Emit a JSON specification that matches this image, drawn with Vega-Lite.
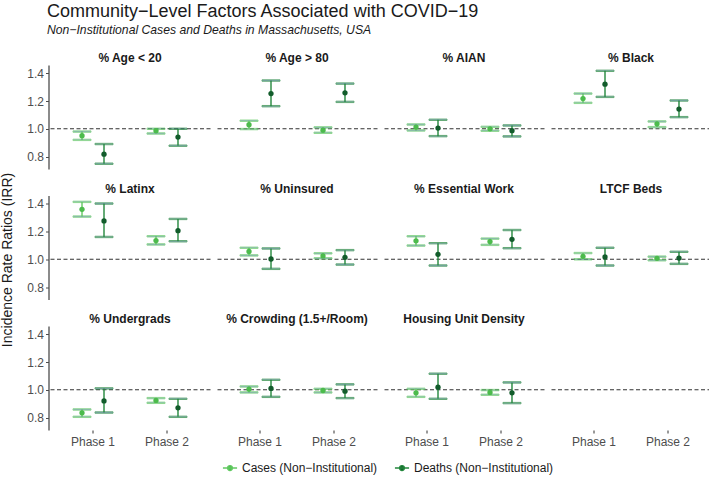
{
  "$schema": "https://vega.github.io/schema/vega-lite/v6.json",
  "background": "white",
  "padding": {"left": 0, "top": 3, "right": 0, "bottom": 4},
  "title": {
    "text": "Community−Level Factors Associated with COVID−19",
    "subtitle": "Non−Institutional Cases and Deaths in Massachusetts, USA",
    "anchor": "start",
    "dx": 46,
    "font": "Liberation Sans",
    "fontSize": 18,
    "fontWeight": "normal",
    "color": "#1a1a1a",
    "subtitleFont": "Liberation Sans",
    "subtitleFontSize": 12.2,
    "subtitleFontStyle": "italic",
    "subtitleColor": "#1a1a1a",
    "subtitlePadding": 3,
    "offset": 15.5
  },
  "hconcat": [
    {
      "data": {"values": [{"label": "Incidence Rate Ratios (IRR)"}]},
      "width": 12,
      "height": 390,
      "mark": {"type": "text", "angle": 270, "font": "Liberation Sans", "fontSize": 14, "color": "#1a1a1a", "baseline": "middle", "align": "center"},
      "encoding": {"text": {"field": "label", "type": "nominal"}}
    },
    {
      "data": {
        "values": [
          {"factor": "% Age < 20", "phase": "Phase 1", "type": "Cases (Non−Institutional)", "est": 0.95, "lo": 0.92, "hi": 0.98},
          {"factor": "% Age < 20", "phase": "Phase 1", "type": "Deaths (Non−Institutional)", "est": 0.817, "lo": 0.748, "hi": 0.89},
          {"factor": "% Age < 20", "phase": "Phase 2", "type": "Cases (Non−Institutional)", "est": 0.986, "lo": 0.966, "hi": 1.0},
          {"factor": "% Age < 20", "phase": "Phase 2", "type": "Deaths (Non−Institutional)", "est": 0.94, "lo": 0.878, "hi": 1.0},
          {"factor": "% Age > 80", "phase": "Phase 1", "type": "Cases (Non−Institutional)", "est": 1.029, "lo": 0.998, "hi": 1.058},
          {"factor": "% Age > 80", "phase": "Phase 1", "type": "Deaths (Non−Institutional)", "est": 1.254, "lo": 1.163, "hi": 1.348},
          {"factor": "% Age > 80", "phase": "Phase 2", "type": "Cases (Non−Institutional)", "est": 0.99, "lo": 0.971, "hi": 1.01},
          {"factor": "% Age > 80", "phase": "Phase 2", "type": "Deaths (Non−Institutional)", "est": 1.259, "lo": 1.194, "hi": 1.326},
          {"factor": "% AIAN", "phase": "Phase 1", "type": "Cases (Non−Institutional)", "est": 1.012, "lo": 0.988, "hi": 1.031},
          {"factor": "% AIAN", "phase": "Phase 1", "type": "Deaths (Non−Institutional)", "est": 1.005, "lo": 0.947, "hi": 1.065},
          {"factor": "% AIAN", "phase": "Phase 2", "type": "Cases (Non−Institutional)", "est": 1.0, "lo": 0.986, "hi": 1.014},
          {"factor": "% AIAN", "phase": "Phase 2", "type": "Deaths (Non−Institutional)", "est": 0.986, "lo": 0.945, "hi": 1.024},
          {"factor": "% Black", "phase": "Phase 1", "type": "Cases (Non−Institutional)", "est": 1.218, "lo": 1.187, "hi": 1.254},
          {"factor": "% Black", "phase": "Phase 1", "type": "Deaths (Non−Institutional)", "est": 1.322, "lo": 1.23, "hi": 1.418},
          {"factor": "% Black", "phase": "Phase 2", "type": "Cases (Non−Institutional)", "est": 1.036, "lo": 1.012, "hi": 1.053},
          {"factor": "% Black", "phase": "Phase 2", "type": "Deaths (Non−Institutional)", "est": 1.142, "lo": 1.084, "hi": 1.204},
          {"factor": "% Latinx", "phase": "Phase 1", "type": "Cases (Non−Institutional)", "est": 1.36, "lo": 1.308, "hi": 1.414},
          {"factor": "% Latinx", "phase": "Phase 1", "type": "Deaths (Non−Institutional)", "est": 1.277, "lo": 1.161, "hi": 1.402},
          {"factor": "% Latinx", "phase": "Phase 2", "type": "Cases (Non−Institutional)", "est": 1.135, "lo": 1.107, "hi": 1.166},
          {"factor": "% Latinx", "phase": "Phase 2", "type": "Deaths (Non−Institutional)", "est": 1.206, "lo": 1.13, "hi": 1.291},
          {"factor": "% Uninsured", "phase": "Phase 1", "type": "Cases (Non−Institutional)", "est": 1.057, "lo": 1.028, "hi": 1.083},
          {"factor": "% Uninsured", "phase": "Phase 1", "type": "Deaths (Non−Institutional)", "est": 1.002, "lo": 0.931, "hi": 1.078},
          {"factor": "% Uninsured", "phase": "Phase 2", "type": "Cases (Non−Institutional)", "est": 1.024, "lo": 1.007, "hi": 1.043},
          {"factor": "% Uninsured", "phase": "Phase 2", "type": "Deaths (Non−Institutional)", "est": 1.014, "lo": 0.962, "hi": 1.066},
          {"factor": "% Essential Work", "phase": "Phase 1", "type": "Cases (Non−Institutional)", "est": 1.133, "lo": 1.099, "hi": 1.166},
          {"factor": "% Essential Work", "phase": "Phase 1", "type": "Deaths (Non−Institutional)", "est": 1.036, "lo": 0.955, "hi": 1.116},
          {"factor": "% Essential Work", "phase": "Phase 2", "type": "Cases (Non−Institutional)", "est": 1.128, "lo": 1.104, "hi": 1.149},
          {"factor": "% Essential Work", "phase": "Phase 2", "type": "Deaths (Non−Institutional)", "est": 1.144, "lo": 1.08, "hi": 1.211},
          {"factor": "LTCF Beds", "phase": "Phase 1", "type": "Cases (Non−Institutional)", "est": 1.021, "lo": 1.0, "hi": 1.045},
          {"factor": "LTCF Beds", "phase": "Phase 1", "type": "Deaths (Non−Institutional)", "est": 1.017, "lo": 0.955, "hi": 1.083},
          {"factor": "LTCF Beds", "phase": "Phase 2", "type": "Cases (Non−Institutional)", "est": 1.007, "lo": 0.993, "hi": 1.019},
          {"factor": "LTCF Beds", "phase": "Phase 2", "type": "Deaths (Non−Institutional)", "est": 1.009, "lo": 0.967, "hi": 1.054},
          {"factor": "% Undergrads", "phase": "Phase 1", "type": "Cases (Non−Institutional)", "est": 0.834, "lo": 0.805, "hi": 0.858},
          {"factor": "% Undergrads", "phase": "Phase 1", "type": "Deaths (Non−Institutional)", "est": 0.92, "lo": 0.836, "hi": 1.01},
          {"factor": "% Undergrads", "phase": "Phase 2", "type": "Cases (Non−Institutional)", "est": 0.923, "lo": 0.906, "hi": 0.94},
          {"factor": "% Undergrads", "phase": "Phase 2", "type": "Deaths (Non−Institutional)", "est": 0.87, "lo": 0.805, "hi": 0.935},
          {"factor": "% Crowding (1.5+/Room)", "phase": "Phase 1", "type": "Cases (Non−Institutional)", "est": 1.005, "lo": 0.981, "hi": 1.024},
          {"factor": "% Crowding (1.5+/Room)", "phase": "Phase 1", "type": "Deaths (Non−Institutional)", "est": 1.01, "lo": 0.949, "hi": 1.072},
          {"factor": "% Crowding (1.5+/Room)", "phase": "Phase 2", "type": "Cases (Non−Institutional)", "est": 0.995, "lo": 0.981, "hi": 1.007},
          {"factor": "% Crowding (1.5+/Room)", "phase": "Phase 2", "type": "Deaths (Non−Institutional)", "est": 0.99, "lo": 0.94, "hi": 1.039},
          {"factor": "Housing Unit Density", "phase": "Phase 1", "type": "Cases (Non−Institutional)", "est": 0.978, "lo": 0.949, "hi": 1.007},
          {"factor": "Housing Unit Density", "phase": "Phase 1", "type": "Deaths (Non−Institutional)", "est": 1.019, "lo": 0.935, "hi": 1.116},
          {"factor": "Housing Unit Density", "phase": "Phase 2", "type": "Cases (Non−Institutional)", "est": 0.981, "lo": 0.964, "hi": 0.998},
          {"factor": "Housing Unit Density", "phase": "Phase 2", "type": "Deaths (Non−Institutional)", "est": 0.978, "lo": 0.904, "hi": 1.053},
          {"factor": " ", "phase": "Phase 1", "type": "Cases (Non−Institutional)", "est": null, "lo": null, "hi": null}
        ]
      },
      "facet": {
        "field": "factor",
        "type": "nominal",
        "title": null,
        "sort": ["% Age < 20", "% Age > 80", "% AIAN", "% Black", "% Latinx", "% Uninsured", "% Essential Work", "LTCF Beds", "% Undergrads", "% Crowding (1.5+/Room)", "Housing Unit Density", " "],
        "header": {
          "labelFont": "Liberation Sans",
          "labelFontSize": 12,
          "labelFontWeight": "bold",
          "labelColor": "#1a1a1a",
          "labelPadding": 0
        }
      },
      "columns": 4,
      "spacing": {"row": 13.5, "column": 4},
      "spec": {
        "width": 161,
        "height": 104,
        "encoding": {
          "x": {
            "field": "phase",
            "type": "nominal",
            "title": null,
            "scale": {"domain": ["Phase 1", "Phase 2"], "paddingInner": 0, "paddingOuter": 0.088},
            "axis": {"domain": false, "ticks": true, "tickSize": 3, "tickColor": "#333333", "labelColor": "#4d4d4d", "labelFont": "Liberation Sans", "labelFontSize": 12, "labelPadding": 3, "labelAngle": 0, "grid": false}
          }
        },
        "layer": [
          {
            "transform": [{"filter": "datum.phase == 'Phase 1' && datum.type == 'Cases (Non−Institutional)'"}],
            "mark": {"type": "rule", "strokeDash": [4, 2.5], "color": "#333333", "strokeWidth": 1.1},
            "encoding": {"x": null, "y": {"datum": 1, "type": "quantitative"}}
          },
          {
            "mark": {"type": "rule", "strokeWidth": 1.4},
            "encoding": {
              "xOffset": {"field": "type", "type": "nominal", "scale": {"paddingInner": 0, "paddingOuter": 0.682}},
              "y": {"field": "lo", "type": "quantitative"},
              "y2": {"field": "hi"},
              "stroke": {"field": "type", "type": "nominal", "scale": {"domain": ["Cases (Non−Institutional)", "Deaths (Non−Institutional)"], "range": ["#62c962", "#23873c"]}}
            }
          },
          {
            "mark": {"type": "tick", "size": 18, "thickness": 1.4},
            "encoding": {
              "xOffset": {"field": "type", "type": "nominal"},
              "y": {"field": "lo", "type": "quantitative"},
              "stroke": {"field": "type", "type": "nominal"}
            }
          },
          {
            "mark": {"type": "tick", "size": 18, "thickness": 1.4},
            "encoding": {
              "xOffset": {"field": "type", "type": "nominal"},
              "y": {"field": "hi", "type": "quantitative"},
              "stroke": {"field": "type", "type": "nominal"}
            }
          },
          {
            "mark": {"type": "point", "filled": true, "opacity": 1, "size": 28, "strokeWidth": 0},
            "encoding": {
              "xOffset": {"field": "type", "type": "nominal"},
              "y": {
                "field": "est",
                "type": "quantitative",
                "title": null,
                "scale": {"domain": [0.71, 1.46], "nice": false, "zero": false},
                "axis": {"tickCount": 4, "format": ".1f", "labelOverlap": false, "grid": false, "domain": true, "domainColor": "#4d4d4d", "domainWidth": 1.3, "ticks": true, "tickSize": 3, "tickColor": "#4d4d4d", "labelColor": "#4d4d4d", "labelFont": "Liberation Sans", "labelFontSize": 12, "labelPadding": 2}
              },
              "fill": {
                "field": "type",
                "type": "nominal",
                "scale": {"domain": ["Cases (Non−Institutional)", "Deaths (Non−Institutional)"], "range": ["#4cbb4c", "#125c2b"]}
              },
              "stroke": {"field": "type", "type": "nominal"}
            }
          }
        ]
      }
    }
  ],
  "spacing": 10.5,
  "config": {
    "view": {"stroke": null},
    "font": "Liberation Sans",
    "axisY": {"labelOverlap": false},
    "legend": {
      "title": null,
      "orient": "none",
      "legendX": 220,
      "legendY": 395,
      "direction": "horizontal",
      "labelFont": "Liberation Sans",
      "labelFontSize": 12,
      "labelColor": "#1a1a1a",
      "symbolType": "M-1,0H1M-0.35,0A0.35,0.35 0 1,0 0.35,0A0.35,0.35 0 1,0 -0.35,0Z",
      "symbolSize": 200,
      "symbolStrokeWidth": 1.3,
      "symbolOpacity": 1,
      "columnPadding": 14
    }
  }
}
